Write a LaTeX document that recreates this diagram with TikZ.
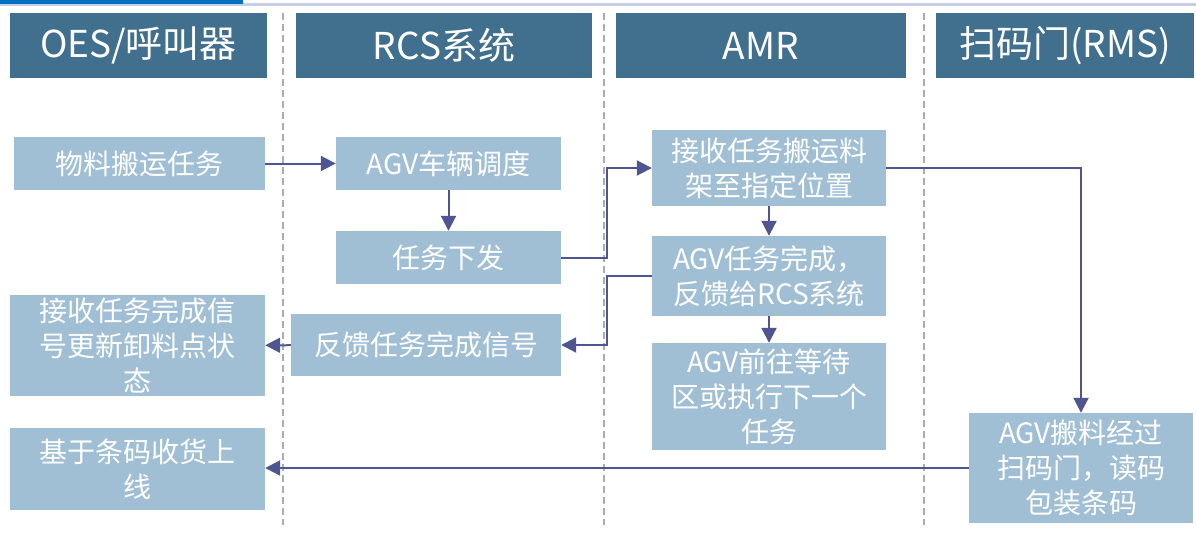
\documentclass[tikz,border=0pt]{standalone}
\usepackage{fontspec}
\setmainfont{Noto Sans CJK SC}
\usetikzlibrary{arrows.meta}
\definecolor{lanecol}{HTML}{41708F}
\definecolor{taskcol}{HTML}{A0BFD5}
\definecolor{flowcol}{HTML}{4F5590}
\definecolor{barblue}{HTML}{0070C0}
\definecolor{barline}{HTML}{C8CDE8}
\tikzset{
  lane/.style={fill=lanecol,text=white,inner sep=0pt,minimum height=65pt,
    font=\fontsize{37}{40}\selectfont},
  task/.style={fill=taskcol,text=white,inner sep=0pt,align=center,
    font=\fontsize{28}{35}\selectfont},
  flow/.style={draw=flowcol,line width=2pt,-{Triangle[length=15pt,width=15pt]}},
  lanesep/.style={draw=gray!65,line width=1.5pt,dash pattern=on 7pt off 4pt}
}
\begin{document}
\begin{tikzpicture}[x=1pt,y=-1pt]
  \useasboundingbox (0,0) rectangle (1196,539);
  \fill[barline] (0,3) rectangle (1196,6);
  \fill[barblue] (0,0) rectangle (243,3.5);
  % lane separators
  \foreach \sx in {283,604,924}
    \draw[lanesep] (\sx,13) -- (\sx,525);
  \node[lane,minimum width=257pt] (oes) at (138.5,45.5) {OES/呼叫器};
  \node[lane,minimum width=296pt] (rcs) at (444,45.5) {RCS系统};
  \node[lane,minimum width=290pt] (amr) at (761,45.5) {AMR};
  \node[lane,minimum width=258pt] (rms) at (1065,45.5) {扫码门(RMS)};
  \node[task,minimum width=251pt,minimum height=53pt] (o1) at (139.5,163.5) {物料搬运任务};
  \node[task,minimum width=255pt,minimum height=101pt] (o2) at (137.5,345.5) {接收任务完成信\\号更新卸料点状\\态};
  \node[task,minimum width=255pt,minimum height=82pt] (o3) at (137.5,469) {基于条码收货上\\线};
  \node[task,minimum width=225pt,minimum height=53pt] (r1) at (448.5,163.5) {AGV车辆调度};
  \node[task,minimum width=225pt,minimum height=53pt] (r2) at (448.5,257.5) {任务下发};
  \node[task,minimum width=270pt,minimum height=62pt] (r3) at (426,345) {反馈任务完成信号};
  \node[task,minimum width=234pt,minimum height=76pt] (a1) at (769,168) {接收任务搬运料\\架至指定位置};
  \node[task,minimum width=234pt,minimum height=80pt] (a2) at (769,276) {AGV任务完成，\\反馈给RCS系统};
  \node[task,minimum width=234pt,minimum height=107pt] (a3) at (769,396.5) {AGV前往等待\\区或执行下一个\\任务};
  \node[task,minimum width=224pt,minimum height=110pt] (m1) at (1081,468) {AGV搬料经过\\扫码门，读码\\包装条码};
  \coordinate (jx) at (607,0);
  \draw[flow] (o1) -- (r1);
  \draw[flow] (r1) -- (r2);
  \draw[flow] (r2.east) -| (jx |- a1.west) -- (a1.west);
  \draw[flow] (a1) -- (a2);
  \draw[flow] (a2) -- (a3);
  \draw[flow] (a2.west) -| (jx |- r3.east) -- (r3.east);
  \draw[flow] (r3) -- (o2);
  \draw[flow] (a1.east) -| (m1.north);
  \draw[flow] (m1.west) -- (o3.east |- m1.west);
\end{tikzpicture}
\end{document}
